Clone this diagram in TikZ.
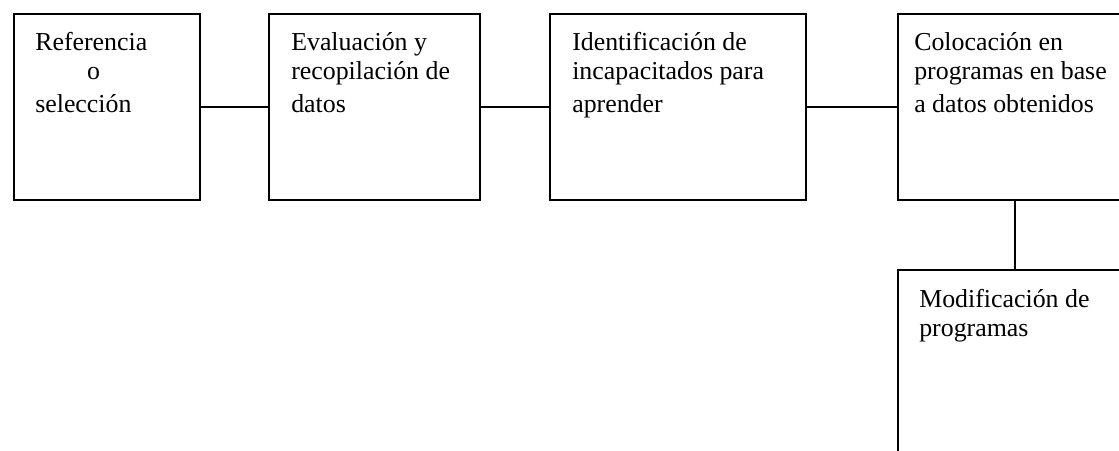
\documentclass[tikz,border=0pt]{standalone}
\usepackage{fontspec}
\setmainfont{Liberation Serif}
\begin{document}
\begin{tikzpicture}[x=0.75pt,y=0.75pt,yscale=-1,xscale=1,
    stagebox/.style={draw, line width=1.2pt, rectangle, inner sep=0pt, anchor=north west, minimum height=139.5pt},
    stagetext/.style={anchor=north west, inner sep=0pt, align=left, font=\fontsize{19.4pt}{21.75pt}\selectfont},
    link/.style={line width=1.2pt}]
        %set diagram size 1119 x 450
        \useasboundingbox (0,0) rectangle (1119,450);
        \clip (0,0) rectangle (1119,450);
        
        %Shape: Rectangle [id:referencia]
        \node [stagebox, minimum width=139.5pt] (ref) at (13,13) {};
        %Shape: Rectangle [id:evaluacion]
        \node [stagebox, minimum width=158.25pt] (eval) at (268,13) {};
        %Shape: Rectangle [id:identificacion]
        \node [stagebox, minimum width=192pt] (ident) at (549,13) {};
        %Shape: Rectangle [id:colocacion]
        \node [stagebox, minimum width=175.5pt] (coloc) at (897,13) {};
        %Shape: Rectangle [id:modificacion]
        \node [stagebox, minimum width=175.5pt, minimum height=150pt] (modif) at (897,269) {};
        
        %Straight Lines
        \draw [link] (ref) -- (eval);
        \draw [link] (eval) -- (ident);
        \draw [link] (ident) -- (coloc);
        \draw [link] (coloc) -- (modif);
        
        % Text Node
        \node [stagetext] (reftxt) at ([shift={(22,19)}]ref.north west) {Referencia\\\hspace*{2em}o\\[3pt]selección};
        % Text Node
        \node [stagetext] (evaltxt) at ([shift={(23,19)}]eval.north west) {Evaluación y\\recopilación de\\[3pt]datos};
        % Text Node
        \node [stagetext] (identtxt) at ([shift={(23,19)}]ident.north west) {Identificación de\\incapacitados para\\[3pt]aprender};
        % Text Node
        \node [stagetext] (coloctxt) at ([shift={(17,19)}]coloc.north west) {Colocación en\\programas en base\\[3pt]a datos obtenidos};
        % Text Node
        \node [stagetext] (modiftxt) at ([shift={(22,20)}]modif.north west) {Modificación de\\programas};
\end{tikzpicture}
\end{document}
